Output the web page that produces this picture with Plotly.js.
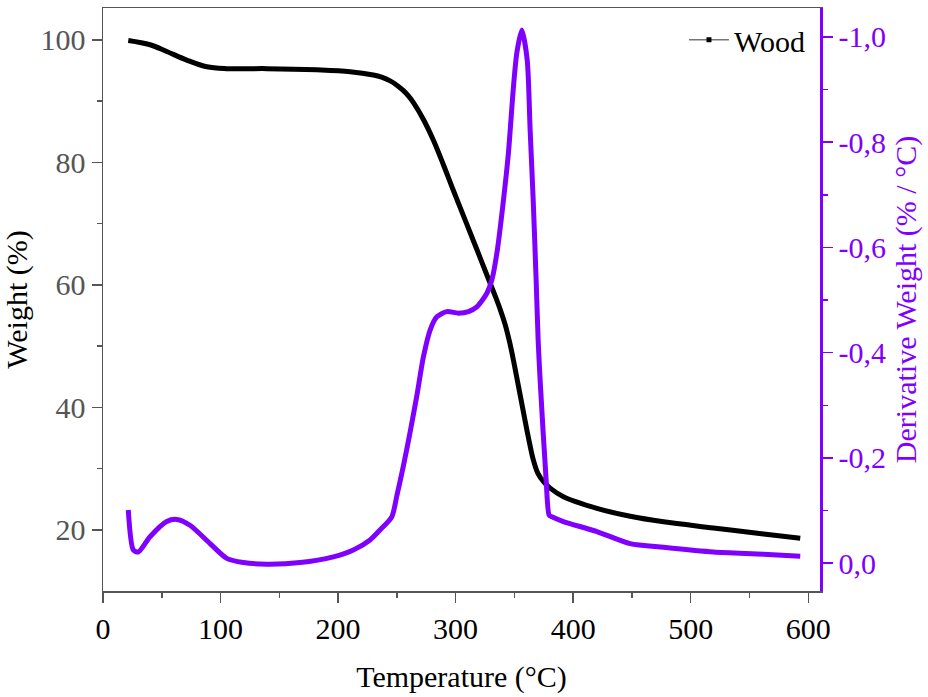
<!DOCTYPE html>
<html>
<head>
<meta charset="utf-8">
<script src="https://cdn.plot.ly/plotly-3.0.1.min.js"></script>
<style>html,body{margin:0;padding:0;background:#fff;}#chart{width:928px;height:697px;}</style>
</head>
<body>
<div id="chart"></div>
<script>
// Weight (TGA) curve, Wood
const tgaTemp = [21.5, 40, 54.2, 71.2, 88.3, 105.3, 139.3, 181.9, 210.2, 230, 237, 244.3, 250, 255.6, 260, 264.1, 272.6, 281.1, 289.6, 298.1, 309.5, 318, 326.6, 333, 337.9, 342, 346, 350, 354, 358, 362, 366, 370, 375, 380.4, 391.7, 420.2, 448.5, 476.9, 519.4, 562, 593.2];
const tgaWeight = [99.9, 99.2, 98.1, 96.7, 95.6, 95.3, 95.3, 95.1, 94.8, 94.25, 93.9, 93.3, 92.6, 91.7, 90.8, 89.75, 87.0, 83.6, 79.6, 75.4, 69.9, 65.8, 61.6, 58.5, 56.0, 53.6, 50.6, 46.9, 42.9, 38.9, 35.0, 31.5, 29.2, 27.8, 26.8, 25.4, 23.5, 22.2, 21.3, 20.3, 19.3, 18.6];
// Derivative weight (DTG) curve
const dtgTemp = [21.5, 25.8, 30.0, 40, 54.2, 62.7, 74, 91.1, 105.3, 119.4, 139.3, 167.7, 196, 213, 227.2, 235.7, 245.7, 250, 255.6, 261.3, 267, 272.6, 278.3, 284, 292.5, 302.4, 310.9, 318, 326.6, 330.8, 335.1, 340.4, 344.9, 349.2, 352.1, 356.3, 360.9, 363.4, 366, 368.5, 370.2, 371.9, 377, 379.6, 381.9, 391.7, 420.2, 448.5, 476.9, 519.4, 562, 593.2];
const dtgValue = [-0.101, -0.025, -0.021, -0.050, -0.079, -0.083, -0.072, -0.037, -0.009, -0.001, 0.002, -0.001, -0.012, -0.025, -0.044, -0.063, -0.088, -0.128, -0.185, -0.249, -0.318, -0.392, -0.443, -0.468, -0.478, -0.475, -0.478, -0.487, -0.513, -0.538, -0.589, -0.684, -0.779, -0.905, -0.970, -1.013, -0.956, -0.823, -0.690, -0.538, -0.424, -0.348, -0.158, -0.091, -0.088, -0.079, -0.060, -0.037, -0.030, -0.021, -0.017, -0.013];
// Tick labels
const xTickVals = [0, 100, 200, 300, 400, 500, 600];
const yTickVals = [20, 40, 60, 80, 100];
const y2TickVals = [-1.0, -0.8, -0.6, -0.4, -0.2, 0.0];
const y2TickText = ["-1,0", "-0,8", "-0,6", "-0,4", "-0,2", "0,0"];
const seriesName = "Wood";

const PURPLE = "#7f00ff";
const FONT = "Liberation Serif, Times New Roman, serif";
const FS = 30;

const traces = [
  {x: tgaTemp, y: tgaWeight, type: "scatter", mode: "lines", name: seriesName, showlegend: false,
   line: {color: "#000000", width: 5, shape: "spline", smoothing: 1.0}, xaxis: "x", yaxis: "y"},
  {x: dtgTemp, y: dtgValue, type: "scatter", mode: "lines", name: "DTG", showlegend: false,
   line: {color: PURPLE, width: 5, shape: "spline", smoothing: 0.7}, xaxis: "x", yaxis: "y2"},
  {x: [null], y: [null], type: "scatter", mode: "lines+markers", name: seriesName, showlegend: true,
   line: {color: "#333333", width: 1}, marker: {symbol: "square", size: 5, color: "#000000"}, xaxis: "x", yaxis: "y"}
];

const layout = {
  width: 928, height: 697,
  margin: {l: 103, r: 108, t: 8, b: 106},
  paper_bgcolor: "#ffffff", plot_bgcolor: "#ffffff",
  font: {family: FONT, size: FS, color: "#000000"},
  showlegend: true,
  legend: {x: 0.986, y: 0.99, xanchor: "right", yanchor: "top", bgcolor: "rgba(0,0,0,0)",
           font: {family: FONT, size: FS, color: "#000000"}, itemwidth: 40, tracegroupgap: 0},
  xaxis: {
    range: [0, 610], tickvals: xTickVals, ticks: "outside", ticklen: 10, tickwidth: 1.5, tickcolor: "#555555",
    showline: true, linecolor: "#555555", linewidth: 1.5, mirror: true, showgrid: false, zeroline: false,
    tickfont: {family: FONT, size: FS, color: "#000000"},
    minor: {dtick: 50, ticks: "outside", ticklen: 5, tickcolor: "#555555", tickwidth: 1.5, showgrid: false},
    title: {text: "Temperature (°C)", font: {family: FONT, size: FS, color: "#000000"}, standoff: 22}
  },
  yaxis: {
    range: [10, 105.2], tickvals: yTickVals, ticks: "outside", ticklen: 10, tickwidth: 1.5, tickcolor: "#555555",
    showline: true, linecolor: "#555555", linewidth: 1.5, showgrid: false, zeroline: false,
    tickfont: {family: FONT, size: FS, color: "#555555"},
    minor: {tickvals: [30, 50, 70, 90], ticks: "outside", ticklen: 5, tickcolor: "#555555", tickwidth: 1.5, showgrid: false},
    title: {text: "Weight (%)", font: {family: FONT, size: FS, color: "#000000"}, standoff: 12}
  },
  yaxis2: {
    overlaying: "y", side: "right", range: [0.053, -1.055],
    tickvals: y2TickVals, ticktext: y2TickText, ticks: "outside", ticklen: 10, tickwidth: 1.5, tickcolor: PURPLE,
    showline: true, linecolor: PURPLE, linewidth: 2.5, showgrid: false, zeroline: false,
    tickfont: {family: FONT, size: FS, color: PURPLE},
    minor: {tickvals: [-0.9, -0.7, -0.5, -0.3, -0.1], ticks: "outside", ticklen: 5, tickcolor: PURPLE, tickwidth: 1.5, showgrid: false},
    title: {text: "Derivative Weight (% / °C)", font: {family: FONT, size: FS, color: PURPLE}, standoff: 10}
  }
};

Plotly.newPlot("chart", traces, layout, {displayModeBar: false, staticPlot: true});
</script>
</body>
</html>
